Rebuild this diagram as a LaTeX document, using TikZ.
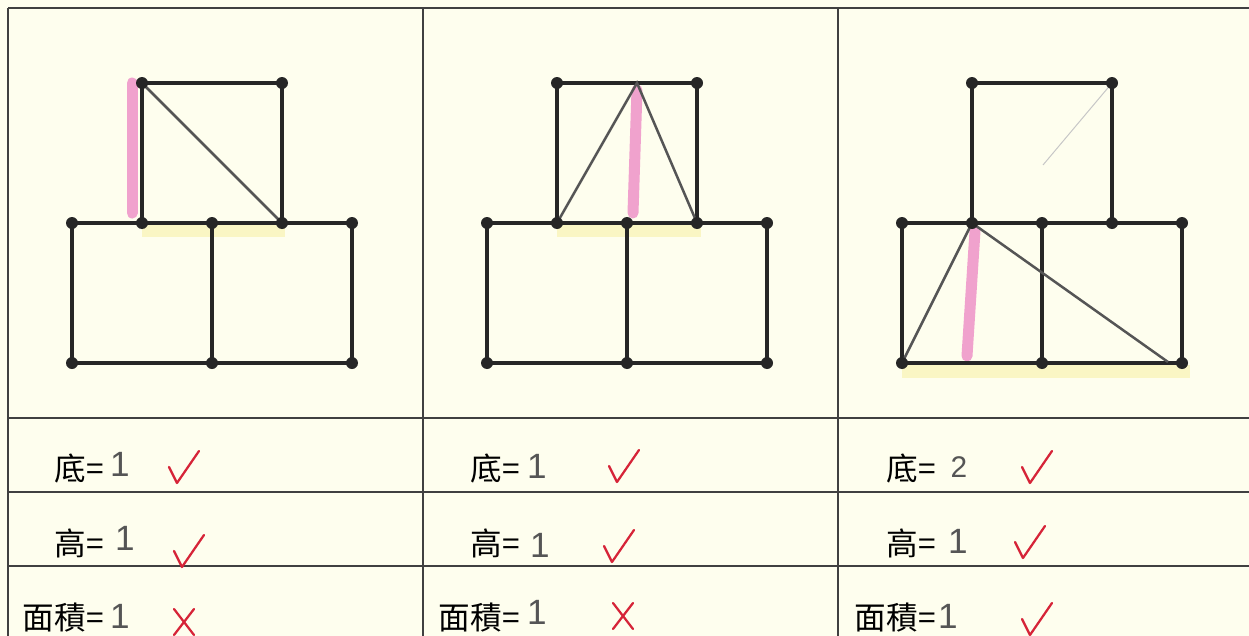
\documentclass[tikz,border=0pt]{standalone}
\usepackage{fontspec}
\newfontfamily\cjk{Noto Sans CJK TC}
\newfontfamily\hand{Liberation Sans}
\definecolor{paper}{RGB}{254,254,238}
\definecolor{pen}{RGB}{38,38,38}
\definecolor{pencil}{RGB}{85,85,85}
\definecolor{marker}{RGB}{240,162,205}
\definecolor{highlight}{RGB}{250,246,196}
\definecolor{redpen}{RGB}{214,36,56}
\tikzset{
  checkmark/.pic={\draw[checked] (-8,-16) -- (0,0) -- (22,-32);},
  crossmark/.pic={\draw[checked] (-10,-13) -- (10,13) (10,-13) -- (-10,13);}
}

\begin{document}
\begin{tikzpicture}[x=0.02cm, y=-0.02cm,
    dot/.style ={circle, fill=pen, inner sep=0pt, minimum size=0.24cm},
    edge/.style ={line width=0.08cm, draw=pen},
    side/.style ={line width=0.05cm, draw=pencil},
    faint/.style ={line width=0.02cm, draw=black!22},
    height/.style ={line width=0.22cm, draw=marker, line cap=round},
    basemark/.style ={line width=0.26cm, draw=highlight},
    rule/.style ={line width=0.04cm, draw=black!75},
    cell/.style ={font=\cjk\fontsize{18}{18}\selectfont, anchor=east, inner sep=0pt},
    answer/.style ={font=\hand\fontsize{20}{20}\selectfont, text=pencil, inner sep=0pt},
    checked/.style ={line width=0.045cm, draw=redpen, line cap=round, line join=round}]
   % sheet
   \path[use as bounding box, fill=paper] (0,0) rectangle (1249,636);
   \foreach \y in {8,418,492,566} \draw[rule] (8,\y) -- (1249,\y);
   \foreach \x in {8,423,838} \draw[rule] (\x,8) -- (\x,636);
   % grid points
   \foreach \n/\x in {a/72,b/487,c/902} {
     \coordinate (\n-p1) at (\x,363);
     \coordinate (\n-p2) at (\x+140,363);
     \coordinate (\n-p3) at (\x+280,363);
     \coordinate (\n-m1) at (\x,223);
     \coordinate (\n-m2) at (\x+70,223);
     \coordinate (\n-m3) at (\x+140,223);
     \coordinate (\n-m4) at (\x+210,223);
     \coordinate (\n-m5) at (\x+280,223);
     \coordinate (\n-t1) at (\x+70,83);
     \coordinate (\n-t2) at (\x+210,83);
   }
   \coordinate (b-top) at (637,83);
   \coordinate (c-foot) at (1168,362);
   \coordinate (c-trace) at (1043,165);
   % highlights
   \draw[basemark] ([yshift=-0.14cm]a-m2) -- ([yshift=-0.14cm,xshift=0.06cm]a-m4);
   \draw[basemark] ([yshift=-0.14cm]b-m2) -- ([yshift=-0.14cm,xshift=0.08cm]b-m4);
   \draw[basemark] ([yshift=-0.16cm]c-p1) -- ([yshift=-0.16cm,xshift=0.16cm]c-p3);
   \draw[height, shorten >=0.2cm] ([xshift=-0.2cm]a-t1) -- ([xshift=-0.2cm]a-m2);
   \draw[height] ([yshift=-0.14cm]b-top) -- ([xshift=0.12cm,yshift=0.2cm]b-m3);
   \draw[height] ([xshift=0.06cm,yshift=-0.16cm]c-m2) -- ([xshift=-0.1cm,yshift=0.14cm]c-m2 |- c-p1);
   % squares
   \foreach \n in {a,b,c} {
     \draw[edge] (\n-p1) -- (\n-p2) -- (\n-p3);
     \draw[edge] (\n-m1) -- (\n-m5);
     \draw[edge] (\n-p1) -- (\n-m1);
     \draw[edge] (\n-p2) -- (\n-m3);
     \draw[edge] (\n-p3) -- (\n-m5);
     \draw[edge] (\n-m2) -- (\n-t1) -- (\n-t2) -- (\n-m4);
   }
   % triangles
   \draw[side] (a-t1) -- (a-m4);
   \draw[side] (b-m2) -- (b-top) -- (b-m4);
   \draw[side] (c-p1) -- (c-m2) -- (c-foot);
   \draw[faint] (c-t2) -- (c-trace);
   \foreach \n in {a,b,c}
     \foreach \p in {p1,p2,p3,m1,m2,m3,m4,m5,t1,t2}
       \node[dot] (\n-\p-dot) at (\n-\p) {};
   % answers
   \foreach \n/\x in {a/104,b/520,c/936} {
     \node[cell] (\n-base) at (\x,469) {底=};
     \node[cell] (\n-height) at (\x,543) {高=};
     \node[cell] (\n-area) at (\x,618) {面積=};
   }
   \node[answer] (a-base-val) at (120,464) {1};
   \node[answer] (a-height-val) at (125,538) {1};
   \node[answer] (a-area-val) at (120,616) {1};
   \node[answer] (b-base-val) at (537,466) {1};
   \node[answer] (b-height-val) at (540,545) {1};
   \node[answer] (b-area-val) at (537,612) {1};
   \node[answer, font=\hand\fontsize{17}{17}\selectfont] (c-base-val) at (959,467) {2};
   \node[answer] (c-height-val) at (958,541) {1};
   \node[answer] (c-area-val) at (948,616) {1};
   % marking
   \pic at (177,483) {checkmark};
   \pic at (182,567) {checkmark};
   \pic at (184,622) {crossmark};
   \pic at (617,482) {checkmark};
   \pic at (612,562) {checkmark};
   \pic at (623,616) {crossmark};
   \pic at (1030,483) {checkmark};
   \pic at (1023,558) {checkmark};
   \pic at (1030,635) {checkmark};
 \end{tikzpicture}
\end{document}
